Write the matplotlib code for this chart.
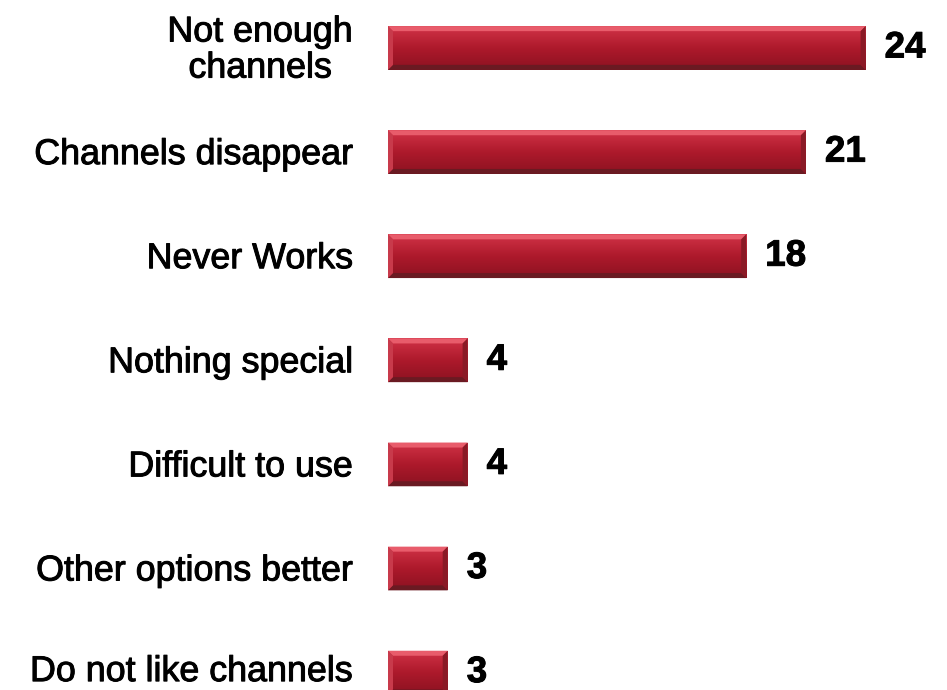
"""
plot.py
-------
Horizontal bar chart of reasons given for disliking the channel feature.
"""
import numpy as np
import matplotlib

matplotlib.use("Agg")
import matplotlib.pyplot as plt
import matplotlib.patheffects as pe
from matplotlib.patches import Polygon

plt.rcParams["font.family"] = ["Liberation Sans", "DejaVu Sans"]

# === Data ===
reasons = [
    "Not enough\nchannels",
    "Channels disappear",
    "Never Works",
    "Nothing special",
    "Difficult to use",
    "Other options better",
    "Do not like channels",
]
counts = [24, 21, 18, 4, 4, 3, 3]

# === Colours ===
FACE_TOP = np.array([0.82, 0.20, 0.28])
FACE_MID = np.array([0.68, 0.10, 0.17])
FACE_BOTTOM = np.array([0.55, 0.07, 0.13])
BEVEL_TOP = "#e85c6b"
BEVEL_BOTTOM = "#6a1a22"
BEVEL_LEFT = "#c83a4b"
BEVEL_RIGHT = "#8a1a26"

W, H, DPI = 947, 690, 100
AX_LEFT_PX = 388
PX_PER_UNIT = 19.9
ROW_PX = 104.1
FIRST_ROW_PX = 48
BAR_HEIGHT = 0.42


def draw_bevel_bar(ax, bar, bevel_px=5):
    """Paints a gradient face and four bevelled edges over a barh patch."""
    x0, y0 = bar.get_x(), bar.get_y()
    w, h = bar.get_width(), bar.get_height()
    x1, y1 = x0 + w, y0 + h

    # vertical gradient on the face (y axis inverted: y0 is the top edge)
    t = np.linspace(0, 1, 64)[:, None]
    upper = FACE_TOP * (1 - 2 * t) + FACE_MID * (2 * t)
    lower = FACE_MID * (2 - 2 * t) + FACE_BOTTOM * (2 * t - 1)
    grad = np.where(t < 0.5, upper, lower)
    grad = np.clip(grad, 0, 1)[:, None, :].repeat(2, axis=1)
    img = ax.imshow(grad, extent=(x0, x1, y1, y0), aspect="auto",
                    interpolation="bilinear", zorder=2)
    img.set_clip_path(bar)

    bx = bevel_px / PX_PER_UNIT
    by = bevel_px / ROW_PX
    edges = [
        ([(x0, y0), (x1, y0), (x1 - bx, y0 + by), (x0 + bx, y0 + by)], BEVEL_TOP),
        ([(x0, y1), (x1, y1), (x1 - bx, y1 - by), (x0 + bx, y1 - by)], BEVEL_BOTTOM),
        ([(x0, y0), (x0 + bx, y0 + by), (x0 + bx, y1 - by), (x0, y1)], BEVEL_LEFT),
        ([(x1, y0), (x1 - bx, y0 + by), (x1 - bx, y1 - by), (x1, y1)], BEVEL_RIGHT),
    ]
    for pts, color in edges:
        ax.add_patch(Polygon(pts, closed=True, facecolor=color,
                             edgecolor="none", zorder=3))


fig = plt.figure(figsize=(W / DPI, H / DPI), dpi=DPI)
ax = fig.add_axes([AX_LEFT_PX / W, 0, 1 - AX_LEFT_PX / W, 1])

y = np.arange(len(reasons))
bars = ax.barh(y, counts, height=BAR_HEIGHT, left=0,
               color=FACE_BOTTOM, edgecolor="none", zorder=1)

for bar in bars:
    draw_bevel_bar(ax, bar)

ax.set_xlim(0, (W - AX_LEFT_PX) / PX_PER_UNIT)
ax.set_ylim((H - FIRST_ROW_PX) / ROW_PX, -FIRST_ROW_PX / ROW_PX)

heavy = [pe.withStroke(linewidth=0.7, foreground="black")]

# value labels
for yi, val in zip(y, counts):
    ax.text(val + 19 / PX_PER_UNIT, yi, str(val), ha="left", va="center",
            fontsize=26.5, fontweight="bold", color="black",
            path_effects=heavy)

# category labels, right-aligned 35 px left of the bars;
# the bottom one is lifted a little so it stays inside the canvas
lift_px = [2.5, 1.5, 1.5, 1.5, 1.5, 1.5, 5.0]
for yi, label, lift in zip(y, reasons, lift_px):
    ax.annotate(label, xy=(0, yi), xycoords=("axes fraction", "data"),
                xytext=(-35 * 72 / DPI, lift * 72 / DPI),
                textcoords="offset points", ha="right", va="center_baseline",
                fontsize=25.8, multialignment="center", linespacing=1.04,
                path_effects=heavy, annotation_clip=False)

ax.set_yticks([])
ax.set_xticks([])
for spine in ax.spines.values():
    spine.set_visible(False)

fig.savefig("out.png", dpi=DPI)
